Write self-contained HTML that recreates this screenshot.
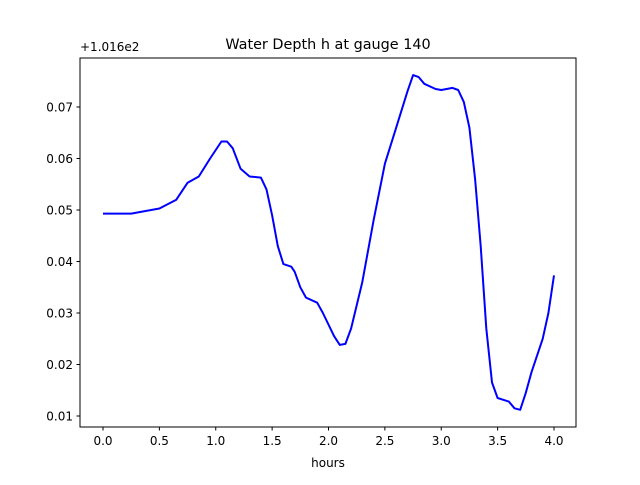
<!DOCTYPE html>
<html><head><meta charset="utf-8"><style>
body{margin:0;background:#fff;}
text{font-family:"DejaVu Sans","Liberation Sans",sans-serif;fill:#000;}
</style></head><body>
<svg id="chart" width="640" height="480" xmlns="http://www.w3.org/2000/svg">
<rect width="640" height="480" fill="#fff"/>
<text x="328" y="49" font-size="14.4" text-anchor="middle">Water Depth h at gauge 140</text>
<text x="80" y="51" font-size="12">+1.016e2</text>
<text x="328" y="467" font-size="12" text-anchor="middle">hours</text>
<g id="ticks"></g>
<path id="line" fill="none" stroke="#0000ff" stroke-width="2" stroke-linejoin="round"/>
<rect x="80" y="58" width="496" height="369" fill="none" stroke="#000" stroke-width="1"/>
</svg>
<script>
const xs=[0,0.25,0.5,0.65,0.75,0.85,0.95,1.05,1.1,1.15,1.22,1.3,1.4,1.45,1.5,1.55,1.6,1.67,1.7,1.75,1.8,1.9,1.95,2.05,2.1,2.15,2.2,2.3,2.4,2.5,2.6,2.7,2.75,2.8,2.85,2.95,3.0,3.1,3.15,3.2,3.25,3.3,3.35,3.4,3.45,3.5,3.6,3.65,3.7,3.75,3.8,3.9,3.95,4.0];
const ys=[0.0493,0.0493,0.0503,0.052,0.0553,0.0565,0.060,0.0633,0.0633,0.062,0.058,0.0565,0.0563,0.054,0.049,0.043,0.0395,0.039,0.038,0.035,0.033,0.032,0.030,0.0255,0.0238,0.024,0.027,0.036,0.048,0.059,0.066,0.073,0.0762,0.0758,0.0745,0.0735,0.0733,0.0737,0.0733,0.071,0.066,0.056,0.043,0.027,0.0165,0.0135,0.0128,0.0115,0.0112,0.0145,0.0185,0.025,0.030,0.0373];
const xTicks=[0,0.5,1,1.5,2,2.5,3,3.5,4];
const xTickLabels=["0.0","0.5","1.0","1.5","2.0","2.5","3.0","3.5","4.0"];
const yTicks=[0.01,0.02,0.03,0.04,0.05,0.06,0.07];
const yTickLabels=["0.01","0.02","0.03","0.04","0.05","0.06","0.07"];
const X=v=>103+v*112.75;
const Y=v=>107+(0.07-v)*5150;
const NS="http://www.w3.org/2000/svg";
const g=document.getElementById('ticks');
function mk(t,a){const e=document.createElementNS(NS,t);for(const k in a)e.setAttribute(k,a[k]);return e;}
xTicks.forEach((v,i)=>{
 const l=mk('line',{x1:X(v),x2:X(v),y1:427,y2:430.5,stroke:'#000'});
 
 
 g.appendChild(l);
 const t=mk('text',{x:X(v),y:445,'font-size':12,'text-anchor':'middle'});
 t.textContent=xTickLabels[i];
 
 
 g.appendChild(t);
});
yTicks.forEach((v,i)=>{
 const l=mk('line',{x1:76.5,x2:80,y1:Y(v),y2:Y(v),stroke:'#000'});
 
 
 g.appendChild(l);
 const t=mk('text',{x:73,y:Y(v)+4.5,'font-size':12,'text-anchor':'end'});
 t.textContent=yTickLabels[i];
 
 
 g.appendChild(t);
});
document.getElementById('line').setAttribute('d',xs.map((x,i)=>(i?'L':'M')+X(x).toFixed(1)+' '+Y(ys[i]).toFixed(1)).join(' '));
</script>
</body></html>
